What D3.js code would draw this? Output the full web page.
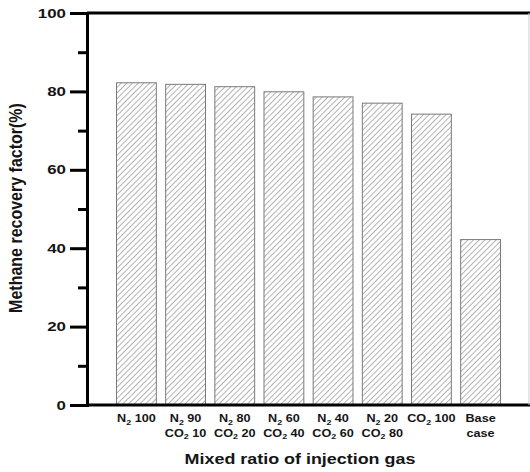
<!DOCTYPE html>
<html>
<head>
<meta charset="utf-8">
<script src="https://cdn.jsdelivr.net/npm/d3@7"></script>
<style>
  body { margin: 0; background: #fff; }
  text { font-family: "Liberation Sans", Arial, sans-serif; font-weight: bold; }
</style>
</head>
<body>
<div id="chart"></div>
<script>
// categorias (duas linhas cada, com subscrito no "2")
const categories = ["N2 100", "N2 90 CO2 10", "N2 80 CO2 20", "N2 60 CO2 40",
                    "N2 40 CO2 60", "N2 20 CO2 80", "CO2 100", "Base case"];
const labelLines = [
  [["N", "2", " 100"]],
  [["N", "2", " 90"], ["CO", "2", " 10"]],
  [["N", "2", " 80"], ["CO", "2", " 20"]],
  [["N", "2", " 60"], ["CO", "2", " 40"]],
  [["N", "2", " 40"], ["CO", "2", " 60"]],
  [["N", "2", " 20"], ["CO", "2", " 80"]],
  [["CO", "2", " 100"]],
  [["Base"], ["case"]]
];
const values = [82.2, 81.8, 81.2, 79.9, 78.6, 77.0, 74.2, 42.2];
const yTicks = [0, 20, 40, 60, 80, 100];
const yMinor = [10, 30, 50, 70, 90];

const width = 530, height = 472;
const margin = { left: 87, right: 0, top: 13, bottom: 67 };

const svg = d3.select("#chart").append("svg")
    .attr("width", width)
    .attr("height", height);

// padrão de hachura
const defs = svg.append("defs");
defs.append("pattern")
    .attr("id", "hatch")
    .attr("patternUnits", "userSpaceOnUse")
    .attr("width", 4)
    .attr("height", 4)
    .attr("patternTransform", "rotate(45)")
    .append("line")
    .attr("x1", 0).attr("y1", 0)
    .attr("x2", 0).attr("y2", 4)
    .attr("stroke", "#8a8a8a")
    .attr("stroke-width", 1.3);

const x = d3.scaleBand()
    .domain(categories)
    .range([margin.left, width - margin.right])
    .paddingInner(0.19)
    .paddingOuter(0.6);

const y = d3.scaleLinear()
    .domain([0, 100])
    .range([height - margin.bottom, margin.top]);

// barras
svg.selectAll(".bar")
    .data(values)
    .enter()
    .append("rect")
    .attr("class", "bar")
    .attr("x", (d, i) => x(categories[i]))
    .attr("y", d => y(d))
    .attr("width", x.bandwidth())
    .attr("height", d => y(0) - y(d))
    .attr("fill", "url(#hatch)")
    .attr("stroke", "#7a7a7a")
    .attr("stroke-width", 1);

// moldura: topo e base até a borda, lado direito cinza claro
svg.append("line")
    .attr("x1", margin.left).attr("x2", width)
    .attr("y1", y(100)).attr("y2", y(100))
    .attr("stroke", "#000").attr("stroke-width", 3);
svg.append("line")
    .attr("x1", margin.left).attr("x2", width)
    .attr("y1", y(0)).attr("y2", y(0))
    .attr("stroke", "#000").attr("stroke-width", 3);
svg.append("line")
    .attr("x1", width - 1).attr("x2", width - 1)
    .attr("y1", y(100)).attr("y2", y(0))
    .attr("stroke", "#ccc").attr("stroke-width", 1);

// eixo y (texto desenhado à parte, esticado na horizontal como no original)
const yAxis = svg.append("g")
    .attr("transform", `translate(${margin.left},0)`)
    .call(d3.axisLeft(y).tickValues(yTicks).tickSize(17).tickFormat(""));
yAxis.select(".domain").attr("stroke-width", 3);
yAxis.selectAll(".tick line").attr("stroke-width", 3);

const yAxisMinor = svg.append("g")
    .attr("transform", `translate(${margin.left},0)`)
    .call(d3.axisLeft(y).tickValues(yMinor).tickSize(9).tickFormat(""));
yAxisMinor.select(".domain").remove();
yAxisMinor.selectAll(".tick line").attr("stroke-width", 3);

svg.selectAll(".ylab")
    .data(yTicks)
    .enter()
    .append("text")
    .attr("class", "ylab")
    .attr("transform", d => `translate(${margin.left - 21},${y(d)}) scale(1.3,1)`)
    .attr("text-anchor", "end")
    .attr("dy", "0.36em")
    .style("font-size", "13px")
    .attr("fill", "#151515")
    .text(d => d);

// rótulos das categorias: uma <text> por linha
const catG = svg.selectAll(".cat")
    .data(labelLines)
    .enter()
    .append("g")
    .attr("class", "cat")
    .attr("transform", (d, i) => `translate(${x(categories[i]) + x.bandwidth() / 2},${y(0)}) scale(1.1,1)`);

catG.each(function(lines) {
    const g = d3.select(this);
    lines.forEach((parts, j) => {
        const t = g.append("text")
            .attr("text-anchor", "middle")
            .attr("y", 17.5 + j * 14.5)
            .style("font-size", "11.5px")
            .attr("fill", "#151515");
        t.append("tspan").text(parts[0]);
        if (parts.length > 1) {
            t.append("tspan")
                .attr("dy", 2.5)
                .style("font-size", "8px")
                .text(parts[1]);
            t.append("tspan").attr("dy", -2.5).text(parts[2]);
        }
    });
});

// títulos dos eixos
svg.append("text")
    .attr("transform", "translate(300,464) scale(1.28,1)")
    .attr("text-anchor", "middle")
    .style("font-size", "14px")
    .attr("fill", "#151515")
    .text("Mixed ratio of injection gas");

svg.append("text")
    .attr("transform", `translate(22,208) rotate(-90) scale(1,1.15)`)
    .attr("text-anchor", "middle")
    .style("font-size", "16px")
    .attr("fill", "#151515")
    .text("Methane recovery factor(%)");
</script>
</body>
</html>
